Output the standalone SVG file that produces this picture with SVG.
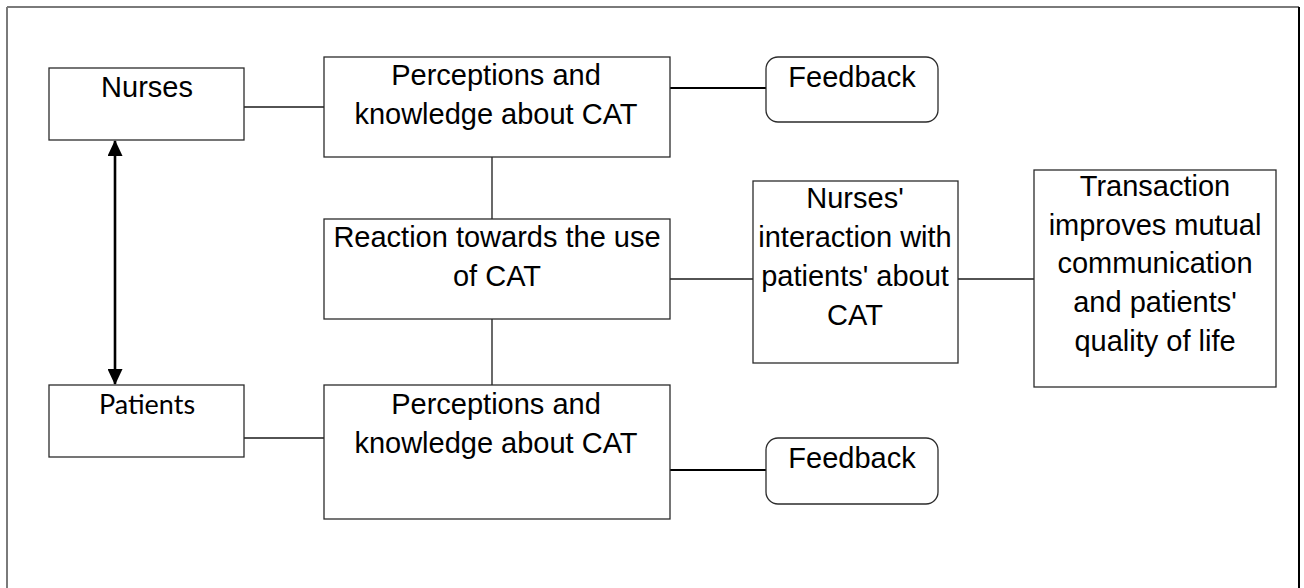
<svg xmlns="http://www.w3.org/2000/svg" width="1304" height="588" viewBox="0 0 1304 588">
  <style>
    .box { fill: #ffffff; stroke: #2b2b2b; stroke-width: 1.3; }
    .label { font-family: "Liberation Sans", Arial, sans-serif; font-size: 29px; fill: #000000; text-anchor: middle; }
    .label-alt { font-family: Lato, "Open Sans", sans-serif; font-size: 27px; fill: #000000; text-anchor: middle; }
    .link { stroke: #1a1a1a; stroke-width: 1.3; fill: none; }
    .link-bold { stroke: #000000; stroke-width: 2; fill: none; }
    .arrow { stroke: #000000; stroke-width: 2.6; fill: none; }
    .frame-soft { stroke: #7a7a7a; stroke-width: 2; fill: none; }
    .frame-dark { stroke: #000000; stroke-width: 2; fill: none; }
  </style>
  <defs>
    <marker id="head" viewBox="0 0 16 15" refX="15" refY="7.5" markerWidth="16" markerHeight="15" markerUnits="userSpaceOnUse" orient="auto-start-reverse">
      <path d="M0,0 L16,7.5 L0,15 Z" fill="#000000"/>
    </marker>
  </defs>

  <rect x="0" y="0" width="1304" height="588" fill="#ffffff"/>

  <!-- outer frame, open at the bottom -->
  <g id="frame">
    <line class="frame-soft" x1="7" y1="7" x2="1299" y2="7"/>
    <line class="frame-soft" x1="7" y1="7" x2="7" y2="588"/>
    <line class="frame-dark" x1="1299" y1="7" x2="1299" y2="588"/>
  </g>

  <!-- connectors -->
  <g id="connectors">
    <line class="link" x1="244" y1="107" x2="324" y2="107"/>
    <line class="link-bold" x1="670" y1="88" x2="766" y2="88"/>
    <line class="link" x1="492" y1="157" x2="492" y2="219"/>
    <line class="link" x1="492" y1="319" x2="492" y2="385"/>
    <line class="link" x1="670" y1="279" x2="753" y2="279"/>
    <line class="link" x1="958" y1="279" x2="1034" y2="279"/>
    <line class="link" x1="244" y1="438" x2="324" y2="438"/>
    <line class="link-bold" x1="670" y1="470" x2="766" y2="470"/>
    <line class="arrow" x1="115" y1="141" x2="115" y2="384" marker-start="url(#head)" marker-end="url(#head)"/>
  </g>

  <g id="nurses">
    <rect class="box" x="49" y="68" width="195" height="72"/>
    <text class="label" x="147" y="97">Nurses</text>
  </g>

  <g id="patients">
    <rect class="box" x="49" y="385" width="195" height="72"/>
    <text class="label-alt" x="147" y="414">Patients</text>
  </g>

  <g id="perceptions-nurses">
    <rect class="box" x="324" y="57" width="346" height="100"/>
    <text class="label" x="496" y="85">Perceptions and</text>
    <text class="label" x="496" y="124">knowledge about CAT</text>
  </g>

  <g id="feedback-nurses">
    <rect class="box" x="766" y="57" width="172" height="65" rx="12" ry="12"/>
    <text class="label" x="852" y="87">Feedback</text>
  </g>

  <g id="reaction">
    <rect class="box" x="324" y="219" width="346" height="100"/>
    <text class="label" x="497" y="247">Reaction towards the use</text>
    <text class="label" x="497" y="286">of CAT</text>
  </g>

  <g id="interaction">
    <rect class="box" x="753" y="181" width="205" height="182"/>
    <text class="label" x="855" y="208">Nurses'</text>
    <text class="label" x="855" y="247">interaction with</text>
    <text class="label" x="855" y="286">patients' about</text>
    <text class="label" x="855" y="325">CAT</text>
  </g>

  <g id="transaction">
    <rect class="box" x="1034" y="170" width="242" height="217"/>
    <text class="label" x="1155" y="196">Transaction</text>
    <text class="label" x="1155" y="235">improves mutual</text>
    <text class="label" x="1155" y="273">communication</text>
    <text class="label" x="1155" y="312">and patients'</text>
    <text class="label" x="1155" y="351">quality of life</text>
  </g>

  <g id="perceptions-patients">
    <rect class="box" x="324" y="385" width="346" height="134"/>
    <text class="label" x="496" y="414">Perceptions and</text>
    <text class="label" x="496" y="453">knowledge about CAT</text>
  </g>

  <g id="feedback-patients">
    <rect class="box" x="766" y="438" width="172" height="66" rx="12" ry="12"/>
    <text class="label" x="852" y="468">Feedback</text>
  </g>
</svg>
